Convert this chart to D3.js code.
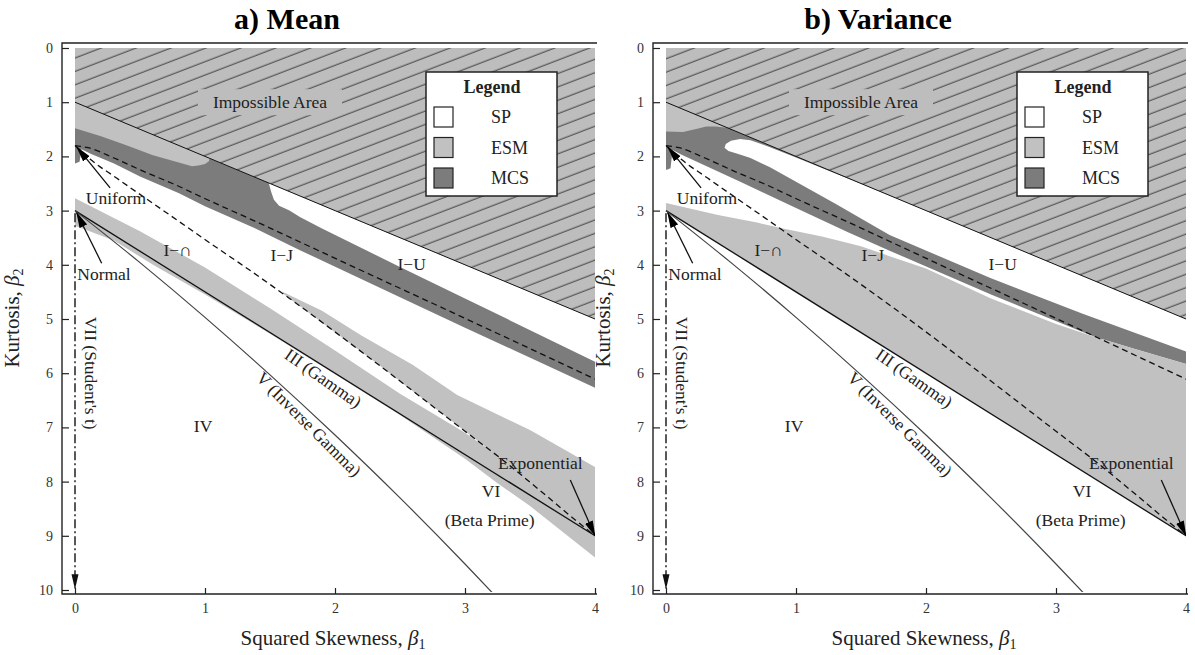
<!DOCTYPE html>
<html><head><meta charset="utf-8">
<script src="https://cdn.jsdelivr.net/npm/d3@7"></script>
<style>
body{margin:0;background:#fff;}
</style></head><body>
<svg id="chart" width="1195" height="655"></svg>
<script>
// ---------- data (beta1 = squared skewness, beta2 = kurtosis) ----------
const xTicks = [0, 1, 2, 3, 4];
const yTicks = [0, 1, 2, 3, 4, 5, 6, 7, 8, 9, 10];
const panelTitles = ["a) Mean", "b) Variance"];
const legendLabels = ["SP", "ESM", "MCS"];

const impossibleArea = [[0,0],[4,0],[4,5],[0,1]];
const impossibleLine = [[0,1],[4,5]];
const gammaLine = [[0,3],[4,9]];
const typeVLine = [[0,3],[0.5,3.96],[1,4.97],[1.5,6.03],[2,7.14],[2.5,8.30],[3,9.52],[3.21,10.05]];
const upperDashed = [[0,1.8],[0.10,1.84],[0.30,2.03],[0.55,2.30],[0.75,2.50],[1.01,2.79],[1.38,3.19],[1.92,3.79],[2.37,4.29],[2.75,4.71],[3.36,5.39],[4,6.11]];
const lowerDashed = [[0,1.8],[0.115,2.05],[0.32,2.40],[0.74,3.10],[1.10,3.70],[1.26,3.96],[1.65,4.62],[2.30,5.78],[3.00,7.07],[3.30,7.62],[3.56,8.13],[3.88,8.77],[4,9]];
const studentLine = [[0,3.05],[0,9.97]];

// a) Mean
const meanMCS = [[0,1.0],[4,5.0],[4,6.27],[3.0,5.16],[2.5,4.6],[1.73,3.73],[1.38,3.32],[1.0,2.92],[0.8,2.68],[0.5,2.37],[0.3,2.13],[0.12,1.95],[0.05,1.87],[0.035,2.1],[0,2.13]];
const meanESMTop = [[0,1.0],[1.035,2.035],[1.03,2.09],[1.0,2.14],[0.95,2.17],[0.9,2.18],[0.6,1.98],[0.4,1.8],[0.2,1.63],[0,1.48]];
const meanSPBubble = [[1.49,2.49],[4,5],[4,5.79],[3.0,4.62],[2.5,4.04],[1.9,3.33],[1.73,3.12],[1.65,3.0],[1.57,2.91],[1.53,2.8],[1.51,2.66]];
const meanESMBandA = [[0,2.77],[0.5,3.38],[1.0,4.05],[1.5,4.8],[2.0,5.58],[2.5,6.38],[3.0,7.1],[3.3,7.6],[3.56,8.13],[3.88,8.77],[4,9],[4,9.4],[3.5,8.45],[3.25,8.03],[3.0,7.58],[2.5,6.77],[2.0,6.02],[1.5,5.27],[1.0,4.55],[0.6,4.0],[0.3,3.55],[0,3.28]];
const meanESMBandB = [[1.6,4.5],[1.9,4.85],[2.2,5.3],[2.6,5.85],[2.94,6.4],[3.5,7.05],[4,7.73],[4,9],[3.88,8.77],[3.56,8.13],[3.3,7.62],[3.0,7.07],[2.3,5.78],[1.65,4.62],[1.6,4.53]];

// b) Variance
const varMCS = [[0,1.0],[4,5],[4,5.83],[3.6,5.55],[3.3,5.33],[2.5,4.55],[1.72,3.74],[1.4,3.4],[1.0,2.95],[0.6,2.5],[0.3,2.17],[0.12,1.97],[0.05,1.88],[0.035,2.22],[0,2.25]];
const varESMTop = [[0,1.0],[0.47,1.47],[0.38,1.45],[0.31,1.45],[0.24,1.49],[0.13,1.55],[0,1.54]];
const varSPBubble = [[0.45,1.84],[0.46,1.77],[0.5,1.71],[0.57,1.68],[0.65,1.7],[0.8,1.83],[1.0,2.02],[1.3,2.31],[1.6,2.6],[2.0,3.0],[4,5],[4,5.6],[3.2,4.9],[2.5,4.25],[1.72,3.45],[1.3,2.87],[1.0,2.47],[0.8,2.2],[0.65,2.03],[0.55,1.95],[0.48,1.9]];
const varESMBig = [[0,2.86],[0.4,3.08],[0.7,3.22],[0.9,3.33],[1.2,3.48],[1.5,3.66],[1.72,3.84],[2.0,4.07],[2.5,4.62],[3.0,5.09],[3.3,5.33],[3.6,5.55],[4,5.83],[4,9],[0,3]];

const regionLabels = [
  {text:"Uniform", x:0.315, y:2.77, rot:0},
  {text:"Normal", x:0.223, y:4.17, rot:0},
  {text:"I\u2212\u2229", x:0.79, y:3.73, rot:0},
  {text:"I\u2212J", x:1.59, y:3.82, rot:0},
  {text:"I\u2212U", x:2.59, y:3.99, rot:0},
  {text:"IV", x:0.985, y:6.97, rot:0},
  {text:"VI", x:3.2, y:8.17, rot:0},
  {text:"(Beta Prime)", x:3.19, y:8.71, rot:0},
  {text:"Exponential", x:3.58, y:7.66, rot:0},
  {text:"III (Gamma)", x:1.91, y:6.09, rot:35},
  {text:"V (Inverse Gamma)", x:1.8, y:6.94, rot:45},
  {text:"VII (Student's t)", x:0.123, y:6.0, rot:90}
];
const impossibleLabel = {text:"Impossible Area", x:1.5, y:1.0};
const arrows = [
  {from:[0.27,2.58], to:[0.015,1.83]},
  {from:[0.205,3.97], to:[0.013,3.04]},
  {from:[3.81,7.97], to:[4.0,9.0]}
];

// ---------- drawing ----------
const FONT = "'Liberation Serif','Times New Roman',Times,serif";
const ESM = "#c1c1c1", MCS = "#7c7c7c", IMP = "#bdbdbd";
const svg = d3.select("#chart");
const defs = svg.append("defs");
const hatch = defs.append("pattern").attr("id","hatch")
  .attr("patternUnits","userSpaceOnUse").attr("width",80).attr("height",12.5)
  .attr("patternTransform","rotate(-21)");
hatch.append("rect").attr("width",80).attr("height",12.5).attr("fill",IMP);
hatch.append("line").attr("x1",0).attr("x2",80).attr("y1",6).attr("y2",6)
  .attr("stroke","#3a3a3a").attr("stroke-width",1);
defs.append("marker").attr("id","arrowHead").attr("viewBox","0 0 16 9")
  .attr("refX",15).attr("refY",4.5).attr("markerWidth",16).attr("markerHeight",9)
  .attr("markerUnits","userSpaceOnUse").attr("orient","auto")
  .append("path").attr("d","M0,0.3L16,4.5L0,8.7Z").attr("fill","#000");
defs.append("marker").attr("id","arrowDown").attr("viewBox","0 0 15 8")
  .attr("refX",14).attr("refY",4).attr("markerWidth",15).attr("markerHeight",8)
  .attr("markerUnits","userSpaceOnUse").attr("orient","auto")
  .append("path").attr("d","M0,0.5L15,4L0,7.5Z").attr("fill","#111");

const sy = d3.scaleLinear().domain([0,10]).range([48,590]);

const panels = [
  {x0:75, title:panelTitles[0], regions:[
    {d:meanMCS, fill:MCS},{d:meanESMTop, fill:ESM},{d:meanSPBubble, fill:"#fff"},
    {d:meanESMBandA, fill:ESM},{d:meanESMBandB, fill:ESM}]},
  {x0:666, title:panelTitles[1], regions:[
    {d:varMCS, fill:MCS},{d:varESMTop, fill:ESM},{d:varSPBubble, fill:"#fff"},
    {d:varESMBig, fill:ESM}]}
];

panels.forEach((p, i) => {
  const sx = d3.scaleLinear().domain([0,4]).range([p.x0, p.x0 + 520]);
  const g = svg.append("g").attr("font-family", FONT);
  const clipId = "clip" + i;
  defs.append("clipPath").attr("id", clipId).append("rect")
    .attr("x", sx(0) - 8).attr("y", sy(0)).attr("width", sx(4) - sx(0) + 8).attr("height", sy(10) - sy(0) + 2);
  const plot = g.append("g").attr("clip-path", `url(#${clipId})`);
  const poly = d3.line().x(d => sx(d[0])).y(d => sy(d[1])).curve(d3.curveLinearClosed);
  const line = d3.line().x(d => sx(d[0])).y(d => sy(d[1]));
  const smooth = d3.line().x(d => sx(d[0])).y(d => sy(d[1])).curve(d3.curveMonotoneX);

  plot.append("path").attr("d", poly(impossibleArea)).attr("fill", "url(#hatch)");
  plot.append("rect").attr("x", sx(impossibleLabel.x) - 72).attr("y", sy(impossibleLabel.y) - 13)
    .attr("width", 144).attr("height", 26).attr("fill", IMP);

  p.regions.forEach(r => plot.append("path").attr("d", poly(r.d)).attr("fill", r.fill));

  plot.append("path").attr("d", line(impossibleLine)).attr("fill","none").attr("stroke","#111").attr("stroke-width",1);
  plot.append("path").attr("d", line(gammaLine)).attr("fill","none").attr("stroke","#111").attr("stroke-width",1.3);
  plot.append("path").attr("d", smooth(typeVLine)).attr("fill","none").attr("stroke","#444").attr("stroke-width",1.2);
  [upperDashed, lowerDashed].forEach(dl => plot.append("path").attr("d", smooth(dl))
    .attr("fill","none").attr("stroke","#111").attr("stroke-width",1.3).attr("stroke-dasharray","6,4"));
  plot.append("path").attr("d", line(studentLine)).attr("fill","none").attr("stroke","#222")
    .attr("stroke-width",1.5).attr("stroke-dasharray","9,3,2,3").attr("marker-end","url(#arrowDown)");

  arrows.forEach(a => plot.append("line")
    .attr("x1", sx(a.from[0])).attr("y1", sy(a.from[1]))
    .attr("x2", sx(a.to[0])).attr("y2", sy(a.to[1]))
    .attr("stroke","#111").attr("stroke-width",1.3).attr("marker-end","url(#arrowHead)"));

  plot.append("text").attr("x", sx(impossibleLabel.x)).attr("y", sy(impossibleLabel.y))
    .attr("dy","0.35em").attr("text-anchor","middle").attr("font-size",17.5).attr("fill","#222")
    .text(impossibleLabel.text);

  regionLabels.forEach(l => g.append("text")
    .attr("transform", `translate(${sx(l.x)},${sy(l.y)}) rotate(${l.rot})`)
    .attr("dy","0.35em").attr("text-anchor","middle").attr("font-size",17.5).attr("fill","#222")
    .text(l.text));

  // legend
  const lx = p.x0 + 351, ly = 72;
  const lg = g.append("g");
  lg.append("rect").attr("x", lx).attr("y", ly).attr("width", 131).attr("height", 124)
    .attr("fill","#fff").attr("stroke","#222").attr("stroke-width",1.5);
  lg.append("text").attr("x", lx + 66).attr("y", ly + 21).attr("text-anchor","middle")
    .attr("font-size",18).attr("font-weight","bold").attr("fill","#222").text("Legend");
  const legendFills = ["#fff", ESM, MCS];
  legendLabels.forEach((t, k) => {
    lg.append("rect").attr("x", lx + 8).attr("y", ly + 35 + k * 30.5).attr("width", 19).attr("height", 20)
      .attr("fill", legendFills[k]).attr("stroke","#222").attr("stroke-width",1.2);
    lg.append("text").attr("x", lx + 65).attr("y", ly + 51 + k * 30.5)
      .attr("font-size",18).attr("fill","#222").text(t);
  });

  // axes
  const gy = g.append("g").attr("transform", `translate(${p.x0 - 13},0)`)
    .call(d3.axisLeft(sy).tickValues(yTicks).tickSizeInner(-7).tickSizeOuter(0).tickPadding(9).tickFormat(d3.format("d")));
  gy.select(".domain").remove();
  gy.attr("font-family", FONT).attr("font-size", 14);
  gy.selectAll("text").attr("fill","#333");
  gy.selectAll("line").attr("stroke","#222").attr("stroke-width",1.2);

  const gx = g.append("g").attr("transform", "translate(0,594)")
    .call(d3.axisBottom(sx).tickValues(xTicks).tickSizeInner(-6).tickSizeOuter(0).tickPadding(9).tickFormat(d3.format("d")));
  gx.select(".domain").remove();
  gx.attr("font-family", FONT).attr("font-size", 14);
  gx.selectAll("text").attr("fill","#333");
  gx.selectAll("line").attr("stroke","#222").attr("stroke-width",1.2);

  g.append("path")
    .attr("d", `M${p.x0 + 522},43H${p.x0 - 13}V594H${p.x0 + 522}`)
    .attr("fill","none").attr("stroke","#222").attr("stroke-width",1.4);

  // titles
  g.append("text").attr("x", p.x0 + 212).attr("y", 29).attr("text-anchor","middle")
    .attr("font-size",30).attr("font-weight","bold").attr("fill","#000").text(p.title);
  const xt = g.append("text").attr("x", p.x0 + 258).attr("y", 645).attr("text-anchor","middle")
    .attr("font-size",21).attr("fill","#222");
  xt.append("tspan").text("Squared Skewness, ");
  xt.append("tspan").attr("font-style","italic").text("\u03B2");
  xt.append("tspan").attr("font-size",14).attr("dy",4).text("1");
  const yt = g.append("text").attr("transform", `translate(${p.x0 - 56},318) rotate(-90)`)
    .attr("text-anchor","middle").attr("font-size",21).attr("fill","#222");
  yt.append("tspan").text("Kurtosis, ");
  yt.append("tspan").attr("font-style","italic").text("\u03B2");
  yt.append("tspan").attr("font-size",14).attr("dy",4).text("2");
});
</script></body></html>
